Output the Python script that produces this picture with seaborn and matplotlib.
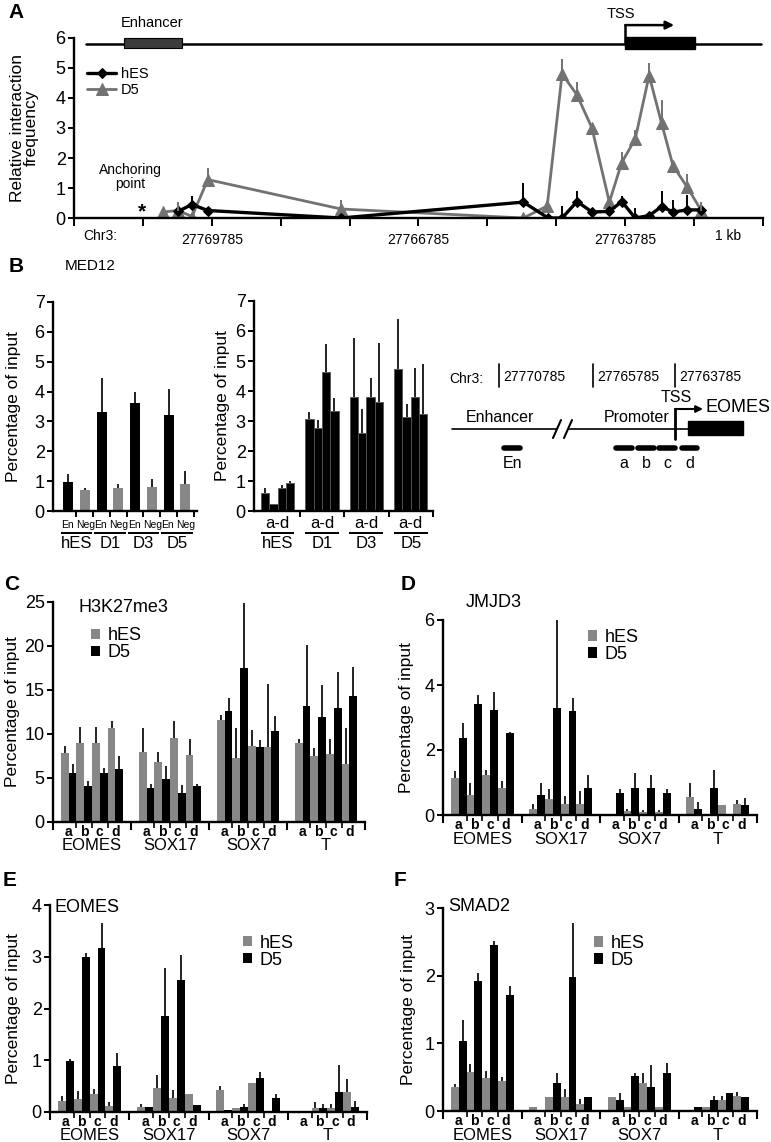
import numpy as np
import pandas as pd
import matplotlib
matplotlib.use("Agg")
import matplotlib.pyplot as plt
from matplotlib.patches import Rectangle
import seaborn as sns

# =========================
# DATA
# =========================

# A: relative interaction frequency (3C), genomic position on Chr3
a_hes_pos = [27770275, 27770073, 27769843, 27767910, 27765263, 27764903, 27764701, 27764484,
             27764268, 27764015, 27763835, 27763640, 27763438, 27763258, 27763092, 27762883, 27762681]
a_hes_val = [0.22, 0.45, 0.25, 0.0, 0.53, 0.0, 0.0, 0.55, 0.2, 0.22, 0.55, 0.0, 0.08, 0.38, 0.2, 0.27, 0.27]
a_hes_err = [0.0, 0.29, 0.0, 0.0, 0.64, 0.0, 0.4, 0.35, 0.0, 0.0, 0.2, 0.35, 0.0, 0.52, 0.4, 0.5, 0.0]

a_d5_pos = [27770492, 27770275, 27770073, 27769843, 27767910, 27765263, 27764917, 27764701, 27764484,
            27764268, 27764015, 27763835, 27763640, 27763438, 27763258, 27763092, 27762883, 27762681]
a_d5_val = [0.2, 0.25, 0.05, 1.28, 0.3, 0.0, 0.4, 4.8, 4.1, 3.0, 0.53, 1.85, 2.63, 4.75, 3.17, 1.75, 1.02, 0.25]
a_d5_err = [0.0, 0.3, 0.0, 0.4, 0.3, 0.0, 0.0, 0.5, 0.45, 0.0, 0.0, 0.35, 0.32, 0.42, 0.78, 0.0, 0.46, 0.3]

a_labelled_ticks = [27769785, 27766785, 27763785]

# B: MED12 ChIP
b_days = ["hES", "D1", "D3", "D5"]
b_regions = ["En", "Neg"]
b_en_val = [0.97, 3.3, 3.62, 3.22]
b_en_err = [0.28, 1.16, 0.36, 0.87]
b_neg_val = [0.7, 0.77, 0.8, 0.92]
b_neg_err = [0.08, 0.13, 0.26, 0.42]

b_sites = ["a", "b", "c", "d"]
b_prom_hes = [0.61, 0.22, 0.78, 0.95]
b_prom_d1 = [3.08, 2.76, 4.63, 3.33]
b_prom_d3 = [3.8, 2.61, 3.8, 3.63]
b_prom_d5 = [4.74, 3.14, 3.8, 3.24]
b_prom_hes_err = [0.15, 0.0, 0.09, 0.05]
b_prom_d1_err = [0.23, 0.27, 0.93, 0.45]
b_prom_d3_err = [1.96, 0.8, 0.64, 1.96]
b_prom_d5_err = [1.67, 0.42, 0.98, 1.67]

b_chr_labels = ["27770785", "27765785", "27763785"]
b_frag_labels = ["En", "a", "b", "c", "d"]

# C-F: ChIP at promoter sites a-d of four genes
genes = ["EOMES", "SOX17", "SOX7", "T"]
sites = ["a", "b", "c", "d"]
conds = ["hES", "D5"]

c_hes = [7.82, 9.03, 9.03, 10.69, 7.94, 6.77, 9.56, 7.64, 11.63, 7.3, 8.65, 8.5, 8.95, 7.45, 7.75, 6.55]
c_hes_err = [0.85, 1.72, 1.77, 0.81, 2.71, 1.23, 1.94, 1.81, 0.56, 3.35, 1.85, 7.2, 0.5, 0.94, 1.63, 4.13]
c_d5 = [5.57, 4.14, 5.57, 6.02, 3.91, 4.93, 3.24, 4.1, 12.6, 17.46, 8.5, 10.38, 13.13, 11.89, 12.9, 14.33]
c_d5_err = [1.03, 0.53, 0.56, 1.43, 0.45, 1.39, 0.98, 0.26, 1.47, 7.44, 0.83, 1.69, 6.97, 3.68, 4.17, 3.31]

d_hes = [1.13, 0.62, 1.23, 0.82, 0.2, 0.5, 0.35, 0.35, 0.03, 0.12, 0.1, 0.1, 0.55, 0.0, 0.3, 0.33]
d_hes_err = [0.23, 0.37, 0.15, 0.23, 0.13, 0.3, 0.25, 0.4, 0.0, 0.05, 0.05, 0.05, 0.45, 0.0, 0.0, 0.12]
d_d5 = [2.36, 3.42, 3.23, 2.51, 0.62, 3.28, 3.2, 0.84, 0.69, 0.84, 0.84, 0.69, 0.2, 0.84, 0.0, 0.3]
d_d5_err = [0.48, 0.27, 0.57, 0.03, 0.37, 2.98, 0.4, 0.39, 0.11, 0.46, 0.39, 0.11, 0.2, 0.54, 0.0, 0.22]

e_hes = [0.21, 0.26, 0.35, 0.11, 0.1, 0.47, 0.28, 0.34, 0.43, 0.08, 0.56, 0.02, 0.0, 0.08, 0.08, 0.39]
e_hes_err = [0.09, 0.15, 0.1, 0.08, 0.06, 0.25, 0.14, 0.0, 0.07, 0.0, 0.0, 0.0, 0.0, 0.11, 0.08, 0.24]
e_d5 = [0.99, 3.0, 3.16, 0.89, 0.1, 1.85, 2.55, 0.14, 0.03, 0.1, 0.65, 0.28, 0.0, 0.08, 0.39, 0.1]
e_d5_err = [0.04, 0.08, 0.5, 0.25, 0.0, 0.94, 0.48, 0.0, 0.0, 0.06, 0.12, 0.07, 0.0, 0.07, 0.51, 0.11]

f_hes = [0.36, 0.58, 0.49, 0.45, 0.06, 0.21, 0.21, 0.11, 0.21, 0.06, 0.41, 0.06, 0.0, 0.06, 0.16, 0.22]
f_hes_err = [0.04, 0.11, 0.1, 0.05, 0.0, 0.0, 0.11, 0.07, 0.0, 0.0, 0.15, 0.0, 0.0, 0.0, 0.06, 0.06]
f_d5 = [1.04, 1.92, 2.46, 1.71, 0.0, 0.41, 1.98, 0.21, 0.16, 0.51, 0.36, 0.56, 0.06, 0.16, 0.26, 0.21]
f_d5_err = [0.3, 0.12, 0.05, 0.13, 0.0, 0.15, 0.8, 0.0, 0.11, 0.05, 0.32, 0.15, 0.0, 0.06, 0.0, 0.0]

# =========================
# STYLE
# =========================

sns.set_style("ticks", {"axes.edgecolor": "black", "xtick.color": "black",
                        "ytick.color": "black", "text.color": "black",
                        "axes.labelcolor": "black"})
plt.rcParams["font.family"] = ["Liberation Sans", "DejaVu Sans"]
NARROW = ["Liberation Sans Narrow", "Liberation Sans", "DejaVu Sans"]
GRAY = "#878787"
D5_LINE = "#727272"

W, H = 771, 1142
fig = plt.figure(figsize=(W / 100, H / 100), dpi=100)


def add_ax(left, top, right, bottom):
    return fig.add_axes([left / W, 1 - bottom / H, (right - left) / W, (bottom - top) / H])


def style(ax):
    sns.despine(ax=ax)
    ax.spines["left"].set_linewidth(1.7)
    ax.spines["bottom"].set_linewidth(1.7)
    ax.tick_params(axis="both", width=1.4, length=4, labelsize=13, pad=2)


def set_ylab(ax, text, right_px, size=12.5):
    ax.set_ylabel(text, fontsize=size, linespacing=0.95)
    pos = ax.get_position()
    ax.yaxis.set_label_coords((right_px - pos.x0 * W) / (pos.width * W), 0.5)


def draw_err(ax, errs_per_container, lw=1.3):
    for cont, errs in zip(ax.containers, errs_per_container):
        for bar, e in zip(cont, errs):
            if e > 0:
                x = bar.get_x() + bar.get_width() / 2
                y = bar.get_height()
                ax.vlines(x, y, y + e, color="#111111", lw=lw, zorder=3)


def under(ax, x, text, off_px, **kw):
    ax.annotate(text, xy=(x, 0), xycoords=("data", "axes fraction"),
                xytext=(0, -off_px * 0.72), textcoords="offset points",
                ha="center", va="center", annotation_clip=False, **kw)


def underline(ax, x0, x1, off_px):
    y = -off_px / (ax.get_position().height * H)
    ax.plot([x0, x1], [y, y], transform=ax.get_xaxis_transform(), color="black",
            lw=1.4, clip_on=False, solid_capstyle="butt")


def panel_letter(x, y, s):
    fig.text(x / W, 1 - y / H, s, fontsize=15, fontweight="bold", ha="left", va="center")


# =========================
# PANEL A
# =========================

axA = add_ax(74, 38, 763, 218)
sns.lineplot(x=a_d5_pos, y=a_d5_val, ax=axA, color=D5_LINE, lw=2, marker="^", markersize=8,
             markeredgecolor=D5_LINE, sort=False, errorbar=None, label="D5")
sns.lineplot(x=a_hes_pos, y=a_hes_val, ax=axA, color="black", lw=2.4, marker="D", markersize=5.5,
             markeredgecolor="black", sort=False, errorbar=None, label="hES")

hp = np.array(a_hes_pos); hv = np.array(a_hes_val); he = np.array(a_hes_err)
dp = np.array(a_d5_pos); dv = np.array(a_d5_val); de = np.array(a_d5_err)
axA.vlines(dp[de > 0], dv[de > 0], (dv + de)[de > 0], color=D5_LINE, lw=1.4)
axA.vlines(hp[he > 0], hv[he > 0], (hv + he)[he > 0], color="black", lw=1.4)

style(axA)
axA.set_xlim(27771785, 27761785)
axA.set_ylim(0, 6)
axA.set_yticks(range(0, 7))
a_ticks = np.arange(27761785, 27771786, 1000)
axA.set_xticks(a_ticks)
axA.set_xticklabels([str(t) if t in a_labelled_ticks else "" for t in a_ticks],
                    fontsize=10, family=NARROW)
axA.tick_params(axis="x", length=6, pad=5)
set_ylab(axA, "Relative interaction\nfrequency", 39)

handles, labels = axA.get_legend_handles_labels()
order = [labels.index("hES"), labels.index("D5")]
axA.legend([handles[i] for i in order], ["hES", "D5"], loc="upper left",
           bbox_to_anchor=(0.019, 0.84), frameon=False, prop={"family": NARROW, "size": 10.5},
           handlelength=2.0, handletextpad=0.3, labelspacing=0.15, borderpad=0, borderaxespad=0)

# gene schematic above the plot
axA.plot([0.017, 0.997], [5.8, 5.8], transform=axA.get_yaxis_transform(), color="black",
         lw=1.8, clip_on=False)
axA.add_patch(Rectangle((27771060, 5.67), 27770220 - 27771060, 0.33, facecolor="#3c3c3c",
                        edgecolor="black", lw=0.8, clip_on=False, zorder=3))
axA.add_patch(Rectangle((27763785, 5.63), 27762770 - 27763785, 0.4, facecolor="black",
                        edgecolor="black", clip_on=False, zorder=3))
axA.plot([27763785, 27763785], [5.8, 6.43], color="black", lw=1.8, clip_on=False)
axA.annotate("", xy=(27763075, 6.43), xytext=(27763785, 6.43), annotation_clip=False,
             arrowprops=dict(arrowstyle="-|>", color="black", lw=1.8, mutation_scale=12,
                             shrinkA=0, shrinkB=0))
axA.text(27763846, 6.8, "TSS", fontsize=10.5, family=NARROW, ha="center", va="center")
axA.text(27770653, 6.5, "Enhancer", fontsize=10.5, family=NARROW, ha="center", va="center")
axA.text(27770972, 1.37, "Anchoring\npoint", fontsize=10, family=NARROW, ha="center",
         va="center", linespacing=1.0)
axA.text(27770798, 0.2, "*", fontsize=15, fontweight="bold", ha="center", va="center")
axA.annotate("Chr3:", xy=(0.038, 0), xycoords="axes fraction", xytext=(0, -13),
             textcoords="offset points", ha="center", va="center", fontsize=10, family=NARROW)
axA.annotate("1 kb", xy=(0.949, 0), xycoords="axes fraction", xytext=(0, -13),
             textcoords="offset points", ha="center", va="center", fontsize=10, family=NARROW)

panel_letter(8, 13, "A")

# =========================
# PANEL B - enhancer
# =========================

panel_letter(9, 266, "B")
fig.text(65 / W, 1 - 266 / H, "MED12", fontsize=11, family=NARROW, ha="left", va="center")

rows = []
for i, day in enumerate(b_days):
    rows.append({"bar": day + " En", "region": "En", "value": b_en_val[i]})
    rows.append({"bar": day + " Neg", "region": "Neg", "value": b_neg_val[i]})
dfB = pd.DataFrame(rows)

axB1 = add_ax(53, 302, 197, 511)
sns.barplot(data=dfB, x="bar", y="value", hue="region", hue_order=b_regions,
            palette={"En": "black", "Neg": GRAY}, dodge=False, width=0.6, saturation=1,
            errorbar=None, legend=False, linewidth=0, ax=axB1)
draw_err(axB1, [b_en_err, b_neg_err])
style(axB1)
axB1.set_xlim(-0.9, 7.7)
axB1.set_ylim(0, 7)
axB1.set_yticks(range(0, 8))
axB1.set_xticks(np.arange(0.5, 8, 1.0))
axB1.set_xticklabels([])
axB1.set_xlabel("")
set_ylab(axB1, "Percentage of input", 21)
for i, day in enumerate(b_days):
    under(axB1, 2 * i - 0.05, "En", 14, fontsize=7.5, family=NARROW)
    under(axB1, 2 * i + 1.05, "Neg", 14, fontsize=7.5, family=NARROW)
    underline(axB1, 2 * i + 0.5 - 0.95, 2 * i + 0.5 + 0.95, 22)
    under(axB1, 2 * i + 0.5, day, 32, fontsize=12)

# =========================
# PANEL B - promoter
# =========================

prom_vals = [b_prom_hes, b_prom_d1, b_prom_d3, b_prom_d5]
prom_errs = [b_prom_hes_err, b_prom_d1_err, b_prom_d3_err, b_prom_d5_err]
rows = []
for i, day in enumerate(b_days):
    for j, site in enumerate(b_sites):
        rows.append({"day": day, "site": site, "value": prom_vals[i][j]})
dfP = pd.DataFrame(rows)

axB2 = add_ax(254, 301, 433, 511)
sns.barplot(data=dfP, x="day", y="value", hue="site", hue_order=b_sites, order=b_days,
            palette={s: "black" for s in b_sites}, width=0.75, saturation=1, errorbar=None,
            legend=False, edgecolor="#555555", linewidth=0.6, ax=axB2)
draw_err(axB2, [[prom_errs[i][j] for i in range(4)] for j in range(4)])
style(axB2)
axB2.set_xlim(-0.53, 3.5)
axB2.set_ylim(0, 7)
axB2.set_yticks(range(0, 8))
axB2.set_xticks([0.5, 1.5, 2.5, 3.5])
axB2.set_xticklabels([])
axB2.set_xlabel("")
set_ylab(axB2, "Percentage of input", 230)
for i, day in enumerate(b_days):
    under(axB2, i, "a-d", 12, fontsize=12)
    underline(axB2, i - 0.38, i + 0.38, 22)
    under(axB2, i, day, 32, fontsize=12)

# =========================
# PANEL B - schematic
# =========================

axS = add_ax(440, 355, 771, 480)
axS.set_xlim(440, 771)
axS.set_ylim(480, 355)
axS.axis("off")
axS.text(466, 379, "Chr3:", fontsize=10, family=NARROW, ha="center", va="center")
for lab, x in zip(b_chr_labels, [499, 593, 675]):
    axS.plot([x, x], [364, 387], color="black", lw=1.2)
    axS.text(x + 4, 377, lab, fontsize=10, family=NARROW, ha="left", va="center")
axS.plot([452, 688], [429, 429], color="black", lw=1.2)
axS.fill([551, 561, 575, 565], [438, 438, 420, 420], color="white", zorder=3)
axS.plot([553, 561], [438, 420], color="black", lw=1.5, zorder=4)
axS.plot([564, 572], [438, 420], color="black", lw=1.5, zorder=4)
axS.text(500, 418, "Enhancer", fontsize=11.5, ha="center", va="center")
axS.text(637, 418, "Promoter", fontsize=11.5, ha="center", va="center")
axS.plot([675, 675], [439, 409], color="black", lw=2)
axS.annotate("", xy=(703, 409), xytext=(675, 409),
             arrowprops=dict(arrowstyle="-|>", color="black", lw=1.5, mutation_scale=10,
                             shrinkA=0, shrinkB=0))
axS.text(676, 397, "TSS", fontsize=11.5, ha="center", va="center")
axS.text(738, 408, "EOMES", fontsize=13, ha="center", va="center")
axS.add_patch(Rectangle((688, 421), 55, 14, facecolor="black", edgecolor="black"))
for lab, (x0, x1) in zip(b_frag_labels, [(504, 520), (616, 632), (638, 654), (659, 675), (682, 697)]):
    axS.plot([x0, x1], [448, 448], color="black", lw=4, solid_capstyle="round")
    axS.text((x0 + x1) / 2, 463, lab, fontsize=11.5, ha="center", va="center")

# =========================
# PANELS C-F
# =========================


def chip_panel(ax, hes, hes_err, d5, d5_err, ymax, ystep, ylab_px, title, title_xy, leg_xy):
    rows = []
    for gi, gene in enumerate(genes):
        for si, site in enumerate(sites):
            i = gi * len(sites) + si
            rows.append({"pos": gi * 5 + si, "cond": "hES", "value": hes[i]})
            rows.append({"pos": gi * 5 + si, "cond": "D5", "value": d5[i]})
    df = pd.DataFrame(rows)
    sns.barplot(data=df, x="pos", y="value", hue="cond", hue_order=conds,
                palette={"hES": GRAY, "D5": "black"}, native_scale=True, width=1.0,
                saturation=1, errorbar=None, linewidth=0, ax=ax)
    draw_err(ax, [hes_err, d5_err])
    style(ax)
    ax.set_xlim(-1, 19)
    ax.set_ylim(0, ymax)
    ax.set_yticks(np.arange(0, ymax + 0.01, ystep))
    ax.set_yticklabels([f"{v:g}" for v in np.arange(0, ymax + 0.01, ystep)])
    ax.set_xticks([-1, 4, 9, 14, 19])
    ax.set_xticklabels([])
    ax.set_xticks([g * 5 + s + 0.5 for g in range(4) for s in range(3)], minor=True)
    ax.tick_params(axis="x", which="major", length=6, width=1.5)
    ax.tick_params(axis="x", which="minor", length=4, width=1.2)
    ax.set_xlabel("")
    set_ylab(ax, "Percentage of input", ylab_px)
    for gi, gene in enumerate(genes):
        for si, site in enumerate(sites):
            under(ax, gi * 5 + si, site, 10, fontsize=10, fontweight="bold")
        under(ax, gi * 5 + 1.5, gene, 24, fontsize=12)
    ax.text(title_xy[0], title_xy[1], title, transform=ax.transAxes, fontsize=13,
            ha="center", va="center")
    sns.move_legend(ax, "upper left", bbox_to_anchor=leg_xy, title=None, frameon=False,
                    fontsize=13, handlelength=0.5, handleheight=0.5, handletextpad=0.4,
                    labelspacing=0.0, borderpad=0, borderaxespad=0)


axC = add_ax(53, 602, 365, 822)
chip_panel(axC, c_hes, c_hes_err, c_d5, c_d5_err, 25, 5, 20, "H3K27me3", (0.225, 0.977), (0.122, 0.885))
panel_letter(4, 585, "C")

axD = add_ax(443, 620, 757, 815)
chip_panel(axD, d_hes, d_hes_err, d_d5, d_d5_err, 6, 2, 414, "JMJD3", (0.16, 1.092), (0.462, 0.955))
panel_letter(401, 584, "D")

axE = add_ax(50, 905, 367, 1112)
chip_panel(axE, e_hes, e_hes_err, e_d5, e_d5_err, 4, 1, 21, "EOMES", (0.117, 0.99), (0.609, 0.857))
panel_letter(3, 881, "E")

axF = add_ax(443, 908, 757, 1111)
chip_panel(axF, f_hes, f_hes_err, f_d5, f_d5_err, 3, 1, 416, "SMAD2", (0.115, 1.005), (0.481, 0.868))
panel_letter(394, 880, "F")

fig.savefig("out.png", dpi=100)
